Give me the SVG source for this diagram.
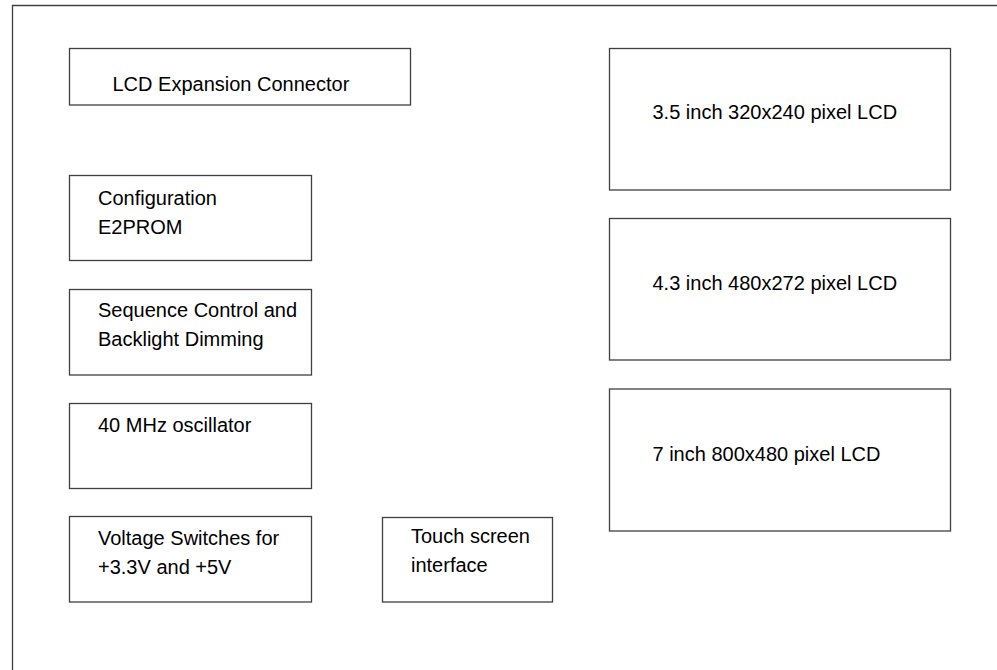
<svg xmlns="http://www.w3.org/2000/svg" width="997" height="670" viewBox="0 0 997 670">
<style>
.box{fill:#fff;stroke:#404040;stroke-width:1.3}
.frame{fill:none;stroke:#404040;stroke-width:1.3}
text{font-family:"Liberation Sans",Arial,sans-serif;font-size:20px;fill:#000}
</style>
<rect width="997" height="670" fill="#fff"/>
<path class="frame" d="M12.5,670 V5.5 H997"/>
<g id="connectors"></g>
<g id="lcd-expansion"><rect class="box" x="69.5" y="48.5" width="341" height="56.5"/><text x="112.5" y="91">LCD Expansion Connector</text></g>
<g id="config-e2prom"><rect class="box" x="69.5" y="175.5" width="242" height="85"/><text x="98" y="204.5">Configuration</text><text x="98" y="233.5">E2PROM</text></g>
<g id="sequence-control"><rect class="box" x="69.5" y="289.5" width="242" height="85.5"/><text x="98" y="316.5">Sequence Control and</text><text x="98" y="345.5">Backlight Dimming</text></g>
<g id="oscillator"><rect class="box" x="69.5" y="403.5" width="242" height="85"/><text x="98" y="431.5">40 MHz oscillator</text></g>
<g id="voltage-switches"><rect class="box" x="69.5" y="516.5" width="242" height="85.5"/><text x="98" y="545">Voltage Switches for</text><text x="98" y="573.5">+3.3V and +5V</text></g>
<g id="touch-screen"><rect class="box" x="382.5" y="517.5" width="170" height="84.5"/><text x="411" y="542.5">Touch screen</text><text x="411" y="571.5">interface</text></g>
<g id="lcd-35"><rect class="box" x="609.5" y="48.5" width="341" height="141.5"/><text x="652.5" y="119">3.5 inch 320x240 pixel LCD</text></g>
<g id="lcd-43"><rect class="box" x="609.5" y="218.5" width="341" height="141.5"/><text x="652.5" y="289.5">4.3 inch 480x272 pixel LCD</text></g>
<g id="lcd-7"><rect class="box" x="609.5" y="389" width="341" height="142"/><text x="652.5" y="460.5">7 inch 800x480 pixel LCD</text></g>
</svg>
